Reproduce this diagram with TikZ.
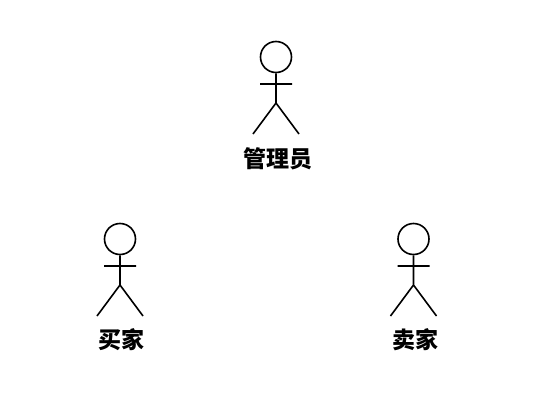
\documentclass[tikz,border=0pt]{standalone}
\usepackage{fontspec}
\usepackage{tikz}
\usetikzlibrary{positioning}
\newfontfamily\cjk{Noto Sans CJK SC}

\begin{document}
\begin{tikzpicture}[x=1pt, y=-1pt]
        % Setup the style for the figures
        \tikzset{head style/.style={circle,
                                    draw=black,
                                    line width=1.6pt,
                                    inner sep=0pt,
                                    minimum size=31pt}}
        \tikzset{limb style/.style={draw=black,
                                    line width=1.6pt}}
        \tikzset{name style/.style={font=\cjk\bfseries\fontsize{23pt}{26pt}\selectfont,
                                    text=black,
                                    inner sep=0pt}}
        \useasboundingbox (0,0) rectangle (542,402);

        % Draw the admin
        \node[head style] at (276,57) (adminhead) {};
        \node[name style] at (277.7,158.5) (adminname) {管理员};
        \coordinate (adminleft) at (260,84);
        \coordinate (adminright) at (292,84);
        \coordinate (adminhip) at (276,103);
        \coordinate (adminfoot1) at (253,134);
        \coordinate (adminfoot2) at (299,134);

        % Draw the buyer
        \node[head style] at (120,239) (buyerhead) {};
        \node[name style] at (121.2,339.5) (buyername) {买家};
        \coordinate (buyerleft) at (104,266);
        \coordinate (buyerright) at (136,266);
        \coordinate (buyerhip) at (120,285);
        \coordinate (buyerfoot1) at (97,316);
        \coordinate (buyerfoot2) at (143,316);

        % Draw the seller
        \node[head style] at (413.5,239) (sellerhead) {};
        \node[name style] at (415.2,339.5) (sellername) {卖家};
        \coordinate (sellerleft) at (397.5,266);
        \coordinate (sellerright) at (429.5,266);
        \coordinate (sellerhip) at (413.5,285);
        \coordinate (sellerfoot1) at (390.5,316);
        \coordinate (sellerfoot2) at (436.5,316);

        % Connect the parts with lines
        \draw[limb style]
            (adminhead) -- (adminhip)
            (adminleft) -- (adminright)
            (adminfoot1) -- (adminhip) -- (adminfoot2)
            (buyerhead) -- (buyerhip)
            (buyerleft) -- (buyerright)
            (buyerfoot1) -- (buyerhip) -- (buyerfoot2)
            (sellerhead) -- (sellerhip)
            (sellerleft) -- (sellerright)
            (sellerfoot1) -- (sellerhip) -- (sellerfoot2);
\end{tikzpicture}
\end{document}
